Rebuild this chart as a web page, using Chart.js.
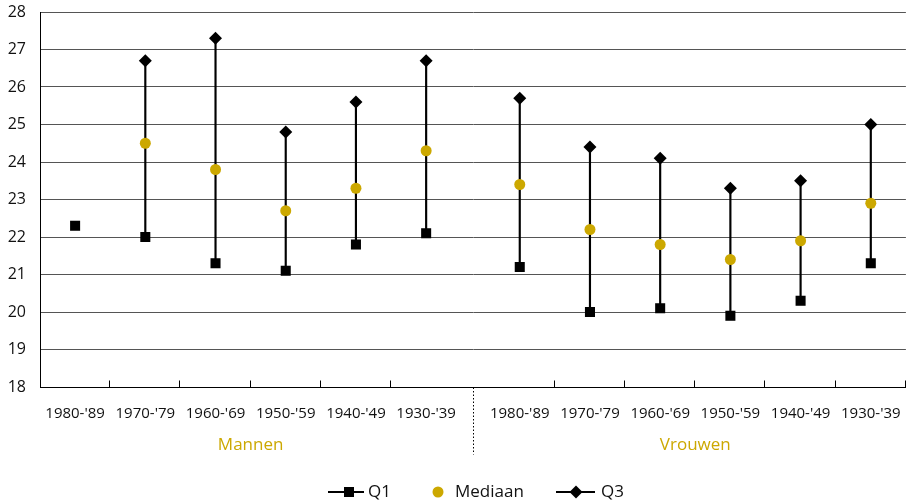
<!DOCTYPE html>
<html>
<head>
<meta charset="utf-8">
<script src="https://cdn.jsdelivr.net/npm/chart.js@4.4.0/dist/chart.umd.min.js"></script>
<style>
  html, body { margin: 0; padding: 0; background: #fff; }
  #wrap { width: 913px; height: 502px; position: relative; }
</style>
</head>
<body>
<div id="wrap"><canvas id="chart"></canvas></div>
<script>
// kwartielen per geboortecohort, mannen en vrouwen
const groups  = ['Mannen', 'Vrouwen'];
const cohorts = ["1980-'89", "1970-'79", "1960-'69", "1950-'59", "1940-'49", "1930-'39"];

const q1Mannen  = [22.3, 22.0, 21.3, 21.1, 21.8, 22.1];
const medMannen = [null, 24.5, 23.8, 22.7, 23.3, 24.3];
const q3Mannen  = [null, 26.7, 27.3, 24.8, 25.6, 26.7];

const q1Vrouwen  = [21.2, 20.0, 20.1, 19.9, 20.3, 21.3];
const medVrouwen = [23.4, 22.2, 21.8, 21.4, 21.9, 22.9];
const q3Vrouwen  = [25.7, 24.4, 24.1, 23.3, 23.5, 25.0];

const yTicks = [18, 19, 20, 21, 22, 23, 24, 25, 26, 27, 28];

const GOLD = '#CCA800';
const GAP  = 1 / 3;   // extra space between the two groups, in category widths

// x position of a cohort on the linear axis
function cohortX(g, i) {
    return g * (cohorts.length + GAP) + i;
}

function toPoints(g, arr) {
    return arr.map((v, i) => ({ x: cohortX(g, i), y: v })).filter(p => p.y !== null);
}

const q1Pts  = toPoints(0, q1Mannen).concat(toPoints(1, q1Vrouwen));
const medPts = toPoints(0, medMannen).concat(toPoints(1, medVrouwen));
const q3Pts  = toPoints(0, q3Mannen).concat(toPoints(1, q3Vrouwen));

// whiskers from Q1 to Q3
const rangePts = [];
[[q1Mannen, q3Mannen], [q1Vrouwen, q3Vrouwen]].forEach(([lo, hi], g) => {
    lo.forEach((v, i) => {
        if (v !== null && hi[i] !== null) rangePts.push({ x: cohortX(g, i), y: [v, hi[i]] });
    });
});

const allTickX = [];
const allTickLabels = [];
groups.forEach((_, g) => cohorts.forEach((c, i) => { allTickX.push(cohortX(g, i)); allTickLabels.push(c); }));

const xMin = -0.5;
const xMax = cohortX(1, cohorts.length - 1) + 0.5;

// ---- extra drawing: tick marks, group separator, group labels, legend ----
const decorations = {
    id: 'decorations',
    afterDraw(chart) {
        const ctx = chart.ctx;
        const xs = chart.scales.x;
        const area = chart.chartArea;
        const bottom = Math.round(area.bottom) + 0.5;
        ctx.save();

        // tick marks at category boundaries (pointing up into the plot)
        ctx.strokeStyle = '#000';
        ctx.lineWidth = 1;
        groups.forEach((_, g) => {
            for (let i = 0; i <= cohorts.length; i++) {
                if (g === 0 && i === 0) continue;
                if (g === 0 && i === cohorts.length) continue;
                if (g === 1 && i === 0) continue;
                const px = Math.round(xs.getPixelForValue(cohortX(g, i) - 0.5)) - 0.5;
                ctx.beginPath();
                ctx.moveTo(px, bottom);
                ctx.lineTo(px, bottom - 7);
                ctx.stroke();
            }
        });

        // dotted separator between the groups
        const sepX = Math.round(xs.getPixelForValue((cohortX(0, cohorts.length - 1) + cohortX(1, 0)) / 2)) + 0.5;
        ctx.setLineDash([1.5, 2]);
        ctx.beginPath();
        ctx.moveTo(sepX, bottom);
        ctx.lineTo(sepX, bottom + 67);
        ctx.stroke();
        ctx.setLineDash([]);

        // group labels
        ctx.fillStyle = GOLD;
        ctx.font = '17px "Open Sans", sans-serif';
        ctx.textAlign = 'center';
        ctx.textBaseline = 'middle';
        groups.forEach((name, g) => {
            const mid = xs.getPixelForValue((cohortX(g, 0) + cohortX(g, cohorts.length - 1)) / 2);
            ctx.fillText(name, mid, bottom + 58);
        });

        // legend
        const ly = 492;
        ctx.font = '17px "Open Sans", sans-serif';
        ctx.textAlign = 'left';
        ctx.fillStyle = '#111';
        ctx.strokeStyle = '#000';
        ctx.lineWidth = 2;

        ctx.beginPath(); ctx.moveTo(328, ly); ctx.lineTo(364, ly); ctx.stroke();
        ctx.fillStyle = '#000';
        ctx.fillRect(349 - 5, ly - 5, 10, 10);
        ctx.fillStyle = '#111';
        ctx.fillText('Q1', 368, ly);

        ctx.fillStyle = GOLD;
        ctx.beginPath(); ctx.arc(438, ly, 5.5, 0, Math.PI * 2); ctx.fill();
        ctx.fillStyle = '#111';
        ctx.fillText('Mediaan', 455, ly);

        ctx.beginPath(); ctx.moveTo(556, ly); ctx.lineTo(595, ly); ctx.stroke();
        ctx.fillStyle = '#000';
        ctx.beginPath();
        ctx.moveTo(576, ly - 6.5); ctx.lineTo(582.5, ly); ctx.lineTo(576, ly + 6.5); ctx.lineTo(569.5, ly);
        ctx.closePath(); ctx.fill();
        ctx.fillStyle = '#111';
        ctx.fillText('Q3', 601, ly);

        ctx.restore();
    }
};

new Chart(document.getElementById('chart'), {
    data: {
        datasets: [
            {
                type: 'bar',
                label: 'range',
                data: rangePts,
                backgroundColor: '#000',
                barThickness: 1.5,
                grouped: false,
                order: 5,
            },
            {
                type: 'line',
                label: 'Q1',
                data: q1Pts,
                showLine: false,
                pointStyle: 'rect',
                pointRadius: 7.1,
                pointBackgroundColor: '#000',
                pointBorderWidth: 0,
                order: 1,
            },
            {
                type: 'line',
                label: 'Mediaan',
                data: medPts,
                showLine: false,
                pointStyle: 'circle',
                pointRadius: 5.5,
                pointBackgroundColor: GOLD,
                pointBorderWidth: 0,
                order: 1,
            },
            {
                type: 'line',
                label: 'Q3',
                data: q3Pts,
                showLine: false,
                pointStyle: 'rectRot',
                pointRadius: 6.5,
                pointBackgroundColor: '#000',
                pointBorderWidth: 0,
                order: 1,
            },
        ],
    },
    options: {
        responsive: true,
        maintainAspectRatio: false,
        animation: false,
        layout: { padding: { top: 12, right: 0, bottom: 0, left: 0 } },
        scales: {
            x: {
                type: 'linear',
                offset: false,
                min: xMin,
                max: xMax,
                afterBuildTicks: (scale) => { scale.ticks = allTickX.map(v => ({ value: v })); },
                afterFit: (scale) => {
                    scale.height = 115;
                    scale.paddingLeft = 0;
                    scale.paddingRight = 0;
                },
                grid: { display: false, offset: false },
                border: { display: true, color: '#000', width: 1 },
                ticks: {
                    autoSkip: false,
                    maxRotation: 0,
                    padding: 10,
                    color: '#111',
                    font: { size: 15, family: '"Open Sans", sans-serif' },
                    callback: (value, index) => allTickLabels[index],
                },
            },
            y: {
                min: yTicks[0],
                max: yTicks[yTicks.length - 1],
                afterBuildTicks: (scale) => { scale.ticks = yTicks.map(v => ({ value: v })); },
                afterFit: (scale) => {
                    scale.width = 40;
                    scale.paddingTop = 0;
                    scale.paddingBottom = 0;
                },
                grid: { color: '#555', lineWidth: 1, drawTicks: false },
                border: { display: true, color: '#000', width: 1 },
                ticks: {
                    padding: 14,
                    color: '#111',
                    font: { size: 16, family: '"Open Sans", sans-serif' },
                },
            },
        },
        plugins: {
            legend: { display: false },
            tooltip: { enabled: false },
        },
    },
    plugins: [decorations],
});
</script>
</body>
</html>
